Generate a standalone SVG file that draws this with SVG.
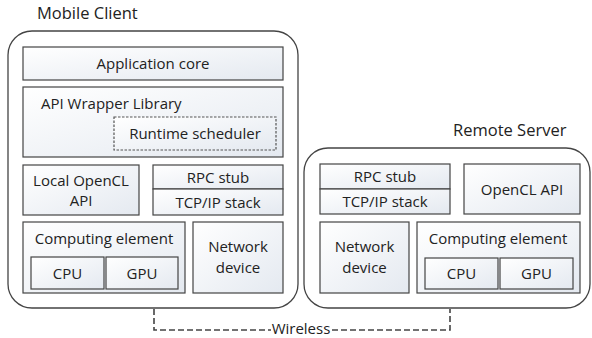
<svg xmlns="http://www.w3.org/2000/svg" width="592" height="338" viewBox="0 0 592 338">
<defs>
<linearGradient id="g" x1="0" y1="0" x2="1" y2="1">
<stop offset="0" stop-color="#ffffff"/>
<stop offset="1" stop-color="#e4e9f0"/>
</linearGradient>
<style>
text{font-family:"Open Sans","Noto Sans","DejaVu Sans",sans-serif;font-size:15px;fill:#222;}
.c{text-anchor:middle;}
.t{font-size:16.5px;}
.outer{fill:#fff;stroke:#444;stroke-width:1.3;}
.box{fill:url(#g);stroke:#444;stroke-width:1.2;}
.dash{fill:url(#g);stroke:#555;stroke-width:1.2;stroke-dasharray:2.5 1.5;}
.wire{fill:none;stroke:#444;stroke-width:1.6;stroke-dasharray:6 3;}
</style>
</defs>
<rect width="592" height="338" fill="#fff"/>

<g id="mobile-client">
<text class="t" x="37" y="19">Mobile Client</text>
<rect class="outer" x="8" y="31" width="290" height="277" rx="24"/>
</g>
<g id="app-core">
<rect class="box" x="23" y="47" width="260" height="33"/>
<text class="c" x="153" y="69">Application core</text>
</g>
<g id="api-wrapper">
<rect class="box" x="23" y="87" width="260" height="70"/>
<text x="41" y="109">API Wrapper Library</text>
</g>
<g id="runtime-scheduler">
<rect class="dash" x="114" y="117" width="162" height="33"/>
<text class="c" x="195" y="139">Runtime scheduler</text>
</g>
<g id="local-opencl">
<rect class="box" x="23" y="165" width="116" height="50"/>
<text class="c" x="81" y="186">Local OpenCL</text>
<text class="c" x="81" y="206">API</text>
</g>
<g id="m-rpc">
<rect class="box" x="153" y="165" width="130" height="24"/>
<text class="c" x="218" y="183">RPC stub</text>
</g>
<g id="m-tcp">
<rect class="box" x="153" y="189" width="130" height="26"/>
<text class="c" x="218" y="208">TCP/IP stack</text>
</g>
<g id="m-compute">
<rect class="box" x="23" y="222" width="162" height="71"/>
<text class="c" x="104" y="244">Computing element</text>
</g>
<g id="m-cpu">
<rect class="box" x="31" y="257" width="73" height="32"/>
<text class="c" x="67.5" y="279">CPU</text>
</g>
<g id="m-gpu">
<rect class="box" x="106" y="257" width="72" height="32"/>
<text class="c" x="142" y="279">GPU</text>
</g>
<g id="m-net">
<rect class="box" x="193" y="222" width="90" height="71"/>
<text class="c" x="238" y="252">Network</text>
<text class="c" x="238" y="273">device</text>
</g>

<g id="remote-server">
<text class="t" x="453" y="136">Remote Server</text>
<rect class="outer" x="304" y="148" width="286" height="160" rx="24"/>
</g>
<g id="s-rpc">
<rect class="box" x="320" y="164" width="130" height="25"/>
<text class="c" x="385" y="182">RPC stub</text>
</g>
<g id="s-tcp">
<rect class="box" x="320" y="189" width="130" height="25"/>
<text class="c" x="385" y="207">TCP/IP stack</text>
</g>
<g id="s-opencl">
<rect class="box" x="464" y="164" width="116" height="50"/>
<text class="c" x="522" y="195">OpenCL API</text>
</g>
<g id="s-net">
<rect class="box" x="320" y="222" width="89" height="71"/>
<text class="c" x="364.5" y="252">Network</text>
<text class="c" x="364.5" y="273">device</text>
</g>
<g id="s-compute">
<rect class="box" x="417" y="222" width="163" height="71"/>
<text class="c" x="498" y="244">Computing element</text>
</g>
<g id="s-cpu">
<rect class="box" x="425" y="258" width="73" height="31"/>
<text class="c" x="461.5" y="279">CPU</text>
</g>
<g id="s-gpu">
<rect class="box" x="500" y="258" width="73" height="31"/>
<text class="c" x="536.5" y="279">GPU</text>
</g>

<g id="connectors">
<path class="wire" d="M154 309 V330 H271"/>
<path class="wire" d="M332 330 H450 V309"/>
<text class="c" x="301" y="334">Wireless</text>
</g>
</svg>
